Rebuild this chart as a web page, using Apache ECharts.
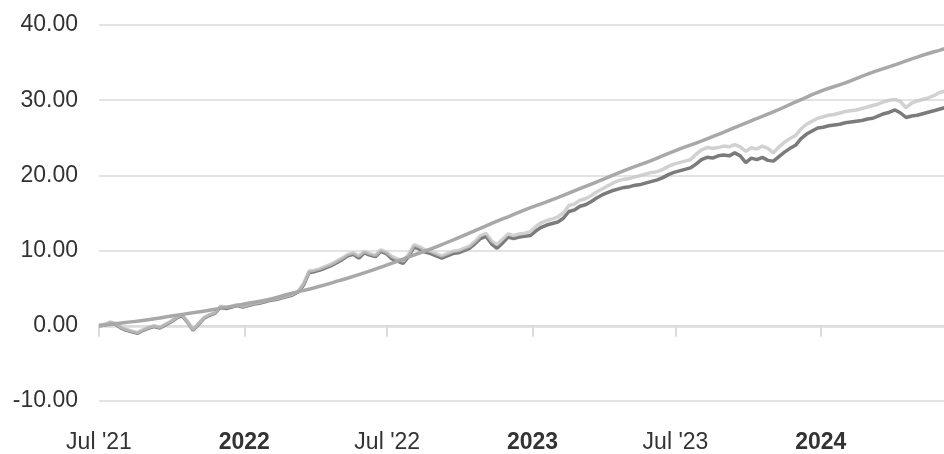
<!DOCTYPE html>
<html>
<head>
<meta charset="utf-8">
<script src="https://cdn.jsdelivr.net/npm/echarts@6/dist/echarts.min.js"></script>
<style>
html,body{margin:0;padding:0;background:#fff;}
#chart{width:944px;height:454px;}
</style>
</head>
<body>
<div id="chart"></div>
<script>
// Weekly series start date (step 7 days)
const seriesStart = '2021-07-01';
const stepDays = 7;
// Light-grey series (weekly)
const lightValues = [
 0.1,0.2,0.5,0.3,-0.2,-0.5,-0.7,-0.9,-0.5,-0.2,
 0.0,-0.2,0.2,0.6,1.1,1.5,0.6,-0.5,0.3,1.1,
 1.5,1.8,2.6,2.5,2.6,2.8,2.6,2.8,3.0,3.1,
 3.3,3.5,3.6,3.8,4.0,4.2,4.6,5.6,7.3,7.4,
 7.6,7.9,8.2,8.6,9.0,9.5,9.7,9.3,9.9,9.6,
 9.4,10.1,9.8,9.2,8.9,8.6,9.5,10.8,10.5,10.1,
 9.9,9.6,9.3,9.6,9.9,10.0,10.3,10.6,11.2,12.0,
 12.3,11.3,10.8,11.5,12.2,12.0,12.2,12.3,12.5,13.2,
 13.7,14.0,14.2,14.5,15.0,16.0,16.2,16.7,16.9,17.3,
 17.8,18.2,18.6,19.0,19.3,19.5,19.6,19.8,20.0,20.2,
 20.4,20.5,20.8,21.2,21.5,21.7,21.9,22.1,22.8,23.4,
 23.7,23.6,23.7,23.9,23.8,24.1,23.8,23.2,23.7,23.5,
 23.9,23.6,23.0,23.8,24.4,24.9,25.3,26.2,26.8,27.2,
 27.6,27.8,28.0,28.1,28.3,28.5,28.6,28.7,28.9,29.1,
 29.3,29.5,29.8,30.0,30.1,29.8,29.0,29.6,29.9,30.1,
 30.3,30.6,31.0,31.2
];
// Dark-grey series (weekly)
const darkValues = [
 0.0,0.1,0.4,0.2,-0.3,-0.6,-0.8,-1.0,-0.6,-0.3,
 -0.1,-0.3,0.1,0.5,1.0,1.4,0.5,-0.6,0.2,1.0,
 1.4,1.7,2.5,2.3,2.5,2.7,2.5,2.7,2.9,3.0,
 3.2,3.4,3.5,3.7,3.9,4.1,4.5,5.4,7.1,7.2,
 7.4,7.7,8.0,8.4,8.8,9.3,9.5,9.0,9.7,9.4,
 9.2,9.9,9.6,8.9,8.6,8.3,9.2,10.5,10.2,9.8,
 9.6,9.3,9.0,9.3,9.6,9.7,10.0,10.3,10.9,11.6,
 11.9,10.9,10.3,11.0,11.8,11.6,11.8,11.9,12.0,12.6,
 13.1,13.4,13.6,13.8,14.3,15.2,15.4,15.9,16.1,16.5,
 17.0,17.4,17.7,18.0,18.2,18.4,18.5,18.7,18.8,19.0,
 19.2,19.4,19.7,20.1,20.4,20.6,20.8,21.0,21.5,22.1,
 22.4,22.3,22.6,22.7,22.6,23.0,22.6,21.7,22.3,22.1,
 22.4,22.0,21.9,22.5,23.1,23.6,24.0,24.9,25.5,25.9,
 26.3,26.4,26.6,26.7,26.8,27.0,27.1,27.2,27.3,27.5,
 27.6,27.9,28.2,28.4,28.7,28.3,27.7,27.9,28.0,28.2,
 28.4,28.6,28.8,29.0
];
// Smooth benchmark (monthly, first of month from Jul 2021)
const benchStartYear = 2021, benchStartMonth = 6; // July (0-based)
const benchValues = [
 0.0,0.4,0.8,1.3,1.8,2.3,2.9,3.5,4.3,5.1,
 6.0,7.0,8.1,9.3,10.5,11.8,13.2,14.5,15.8,17.0,
 18.2,19.5,20.8,22.0,23.3,24.5,25.8,27.1,28.4,29.8,
 31.2,32.3,33.5,34.6,35.7,36.7,37.6
];
// Axis ticks
const tickDates = ['2021-07-01','2022-01-01','2022-07-01','2023-01-01','2023-07-01','2024-01-01'];
const tickLabels = ["Jul '21","2022","Jul '22","2023","Jul '23","2024"];
const tickBold = [false,true,false,true,false,true];
const xMaxDate = '2024-06-05';
const yMin = -10, yMax = 40, yStep = 10;

function ts(s){const p=s.split('-').map(Number);return Date.UTC(p[0],p[1]-1,p[2]);}
const DAY = 86400000;
const t0 = ts(seriesStart);
const lightData = lightValues.map((v,i)=>[t0+i*stepDays*DAY, v]);
const darkData = darkValues.map((v,i)=>[t0+i*stepDays*DAY, v]);
const benchData = benchValues.map((v,i)=>[Date.UTC(benchStartYear, benchStartMonth+i, 1), v]);
const tickTs = tickDates.map(ts);
const labelMap = {};
tickTs.forEach((t,i)=>{labelMap[t] = tickBold[i] ? '{b|'+tickLabels[i]+'}' : '{n|'+tickLabels[i]+'}';});

const chart = echarts.init(document.getElementById('chart'), null, {renderer:'canvas'});
const FONT = '"Liberation Sans", Arial, sans-serif';
chart.setOption({
  animation:false,
  grid:{left:99,right:0,top:25,bottom:52,containLabel:false},
  xAxis:{
    type:'value',
    min:ts(seriesStart), max:ts(xMaxDate),
    axisLine:{show:true,lineStyle:{color:'#dcdcdc',width:2.5}},
    axisTick:{show:true,customValues:tickTs,length:11,lineStyle:{color:'#dcdcdc',width:2}},
    splitLine:{show:false},
    axisLabel:{
      customValues:tickTs,
      margin:30,
      formatter:function(v){return labelMap[v] || '';},
      rich:{
        n:{fontFamily:FONT,fontSize:23,color:'#333',fontWeight:'normal'},
        b:{fontFamily:FONT,fontSize:23,color:'#333',fontWeight:'bold'}
      }
    }
  },
  yAxis:{
    type:'value',min:yMin,max:yMax,interval:yStep,
    axisLine:{show:false},axisTick:{show:false},
    splitLine:{lineStyle:{color:'#e3e3e3',width:2}},
    axisLabel:{fontFamily:FONT,fontSize:23,color:'#333',margin:21,
      formatter:function(v){return v.toFixed(2);}}
  },
  series:[
    {type:'line',data:darkData,showSymbol:false,lineStyle:{color:'#7b7b7b',width:3.5},z:2},
    {type:'line',data:lightData,showSymbol:false,lineStyle:{color:'#c6c6c6',width:3.5,opacity:0.8},z:3},
    {type:'line',data:benchData,showSymbol:false,smooth:true,lineStyle:{color:'#a8a8a8',width:3.5},z:4}
  ]
});
</script>
</body>
</html>
